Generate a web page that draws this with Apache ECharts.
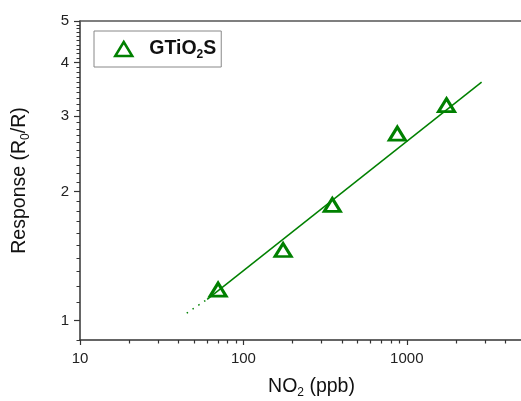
<!DOCTYPE html>
<html>
<head>
<meta charset="utf-8">
<script src="https://cdn.jsdelivr.net/npm/echarts@6/dist/echarts.min.js"></script>
<style>
  html, body { margin: 0; padding: 0; background: #fff; }
  #chart { width: 521px; height: 401px; }
</style>
</head>
<body>
<div id="chart"></div>
<script>
// measured points (NO2 ppb, response R0/R)
var no2 = [70, 175, 350, 875, 1750]
var response = [1.18, 1.46, 1.86, 2.73, 3.18]
// fitted line
var fitSolid = [[60, 1.12], [2870, 3.6]]
var fitDotted = [[45, 1.04], [60, 1.12]]

var xMajor = [10, 100, 1000]
var xMinor = [20, 30, 40, 50, 60, 70, 80, 90, 200, 300, 400, 500, 600, 700, 800, 900, 2000, 3000, 4000]
var yMajor = [1, 2, 3, 4, 5]
var yMinor = [0.9, 1.1, 1.2, 1.3, 1.4, 1.5, 1.6, 1.7, 1.8, 1.9, 2.1, 2.2, 2.3, 2.4, 2.5, 2.6, 2.7, 2.8, 2.9,
  3.1, 3.2, 3.3, 3.4, 3.5, 3.6, 3.7, 3.8, 3.9, 4.1, 4.2, 4.3, 4.4, 4.5, 4.6, 4.7, 4.8, 4.9]

var green = '#008000'
var axisColor = '#333'
var font = 'Liberation Sans, Arial, sans-serif'

var scatterData = []
for (var i = 0; i < no2.length; i++) {
  scatterData.push([no2[i], response[i]])
}

var chart = echarts.init(document.getElementById('chart'))
var option = {
  animation: false,
  grid: { left: 80, top: 21, right: 0, bottom: 61, outerBoundsMode: 'none' },
  legend: {
    left: 94,
    top: 31,
    padding: [6, 5, 6, 20],
    borderColor: '#888',
    borderWidth: 1,
    itemWidth: 17,
    itemHeight: 14,
    data: ['GTiO2S'],
    itemStyle: { color: 'rgba(255,255,255,0)', borderColor: green, borderWidth: 2.5, opacity: 1 },
    formatter: function () {
      return '{sp|}{b|GTiO}{s|2}{b|S}'
    },
    textStyle: {
      fontFamily: font,
      rich: {
        sp: { width: 12 },
        b: { fontSize: 19.5, fontWeight: 'bold', color: '#111', lineHeight: 24 },
        s: { fontSize: 12, fontWeight: 'bold', color: '#111', lineHeight: 12, verticalAlign: 'bottom', padding: [12, 0, 0, 0] }
      }
    }
  },
  xAxis: [
    {
      type: 'log',
      min: 10,
      max: 5000,
      position: 'bottom',
      splitLine: { show: false },
      axisLine: { lineStyle: { color: axisColor, width: 1.5 } },
      axisTick: { customValues: xMajor, length: 5, lineStyle: { color: axisColor, width: 1.2 } },
      axisLabel: {
        customValues: xMajor, fontSize: 15, color: '#222', fontFamily: font, margin: 11,
        formatter: function (v) { return String(Math.round(v)) }
      },
      name: 'NO{s|2} (ppb)',
      nameLocation: 'middle',
      nameGap: 35,
      nameTextStyle: {
        fontSize: 19.5, color: '#111', fontFamily: font, padding: [0, 0, 0, 22],
        rich: { s: { fontSize: 12, color: '#111', verticalAlign: 'bottom', padding: [12, 0, 0, 0] } }
      }
    },
    {
      type: 'log',
      min: 10,
      max: 5000,
      position: 'bottom',
      splitLine: { show: false },
      axisLine: { show: false },
      axisTick: { customValues: xMinor, length: 3.5, lineStyle: { color: axisColor, width: 1.2 } },
      axisLabel: { show: false }
    },
    {
      type: 'log',
      min: 10,
      max: 5000,
      position: 'top',
      splitLine: { show: false },
      axisLine: { lineStyle: { color: '#555', width: 1.5 } },
      axisTick: { show: false },
      axisLabel: { show: false }
    }
  ],
  yAxis: [
    {
      type: 'log',
      min: 0.9,
      max: 5,
      position: 'left',
      splitLine: { show: false },
      axisLine: { lineStyle: { color: axisColor, width: 1.5 } },
      axisTick: { customValues: yMajor, length: 6, lineStyle: { color: axisColor, width: 1.2 } },
      axisLabel: { customValues: yMajor, fontSize: 15, color: '#222', fontFamily: font, margin: 11 },
      name: 'Response (R{s|0}/R)',
      nameLocation: 'middle',
      nameGap: 48,
      nameTextStyle: {
        fontSize: 19.5, color: '#111', fontFamily: font,
        rich: { s: { fontSize: 12, color: '#111', verticalAlign: 'bottom', padding: [12, 0, 0, 0] } }
      }
    },
    {
      type: 'log',
      min: 0.9,
      max: 5,
      position: 'left',
      splitLine: { show: false },
      axisLine: { show: false },
      axisTick: { customValues: yMinor, length: 3.5, lineStyle: { color: axisColor, width: 1 } },
      axisLabel: { show: false }
    }
  ],
  series: [
    {
      name: 'fit',
      type: 'line',
      data: fitSolid,
      symbol: 'none',
      lineStyle: { color: green, width: 1.5 },
      z: 1
    },
    {
      name: 'fit-ext',
      type: 'line',
      data: fitDotted,
      symbol: 'none',
      lineStyle: { color: green, width: 1.5, type: [1.5, 5.5] },
      z: 1
    },
    {
      name: 'GTiO2S',
      type: 'scatter',
      data: scatterData,
      symbol: 'triangle',
      symbolSize: [16, 13],
      itemStyle: { color: 'rgba(255,255,255,0)', borderColor: green, borderWidth: 3, opacity: 1 },
      z: 3
    }
  ]
}
chart.setOption(option)
</script>
</body>
</html>
